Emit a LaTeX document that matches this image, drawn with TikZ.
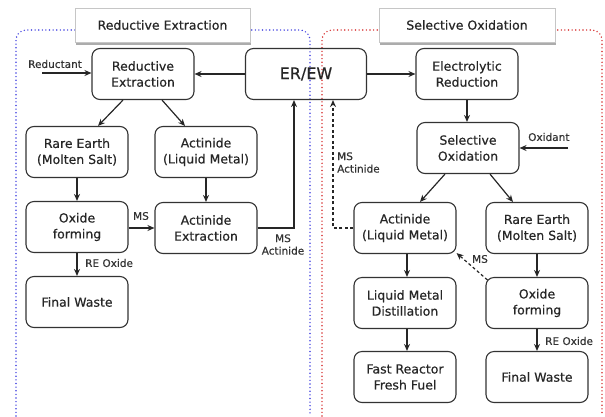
\documentclass[tikz,border=0pt]{standalone}
\usepackage{fontspec}
\setmainfont{DejaVu Sans}
\newfontfamily\medfont[FakeBold=0.5]{DejaVu Sans}
\usetikzlibrary{arrows.meta,calc}
\newcommand\myNodeFont{\medfont\fontsize{12.5}{16}\selectfont}
\newcommand\myBigFont{\medfont\fontsize{16}{18}\selectfont}
\newcommand\myLabFont{\medfont\fontsize{10.5}{12.5}\selectfont}
\newcommand\myTitleFont{\medfont\fontsize{12.5}{15}\selectfont}
\definecolor{dotblue}{RGB}{70,70,225}
\definecolor{dotred}{RGB}{215,50,50}
\begin{document}
\begin{tikzpicture}[x=1pt,y=-1pt,
  box/.style={draw=black!80,line width=1.1pt,rounded corners=8pt,minimum width=102pt,minimum height=51pt,align=center,font=\myNodeFont,text=black!85,inner sep=2pt},
  arr/.style={-{Stealth[length=7pt,width=6pt]},line width=1.2pt,draw=black!85},
  darr/.style={arr,dash pattern=on 3pt off 2.5pt},
  lab/.style={font=\myLabFont,text=black!80,inner sep=0pt},
  titlebox/.style={fill=white,draw=gray!45,line width=0.6pt},
  shadowbox/.style={fill=gray!65,draw=none},
  bluedots/.style={draw=dotblue,line width=1.6pt,dash pattern=on 0.01pt off 3.6pt,line cap=round,rounded corners=10pt},
  reddots/.style={draw=dotred,line width=1.6pt,dash pattern=on 0.01pt off 3.6pt,line cap=round,rounded corners=10pt}]
\useasboundingbox (0,0) rectangle (605,416);
% section frames
\draw[bluedots] (16,416) -- (16,30) -- (310,30) -- (310,416);
\draw[reddots] (322,416) -- (322,30) -- (602,30) -- (602,416);
% title boxes
\fill[shadowbox] (76,11) rectangle (251,45);
\draw[titlebox] (75,8) rectangle (250,42);
\node[font=\myTitleFont,text=black!85] (t1) at (162.5,25) {Reductive Extraction};
\fill[shadowbox] (380,11) rectangle (556,45);
\draw[titlebox] (379,8) rectangle (555,42);
\node[font=\myTitleFont,text=black!85] (t2) at (467,25) {Selective Oxidation};
% nodes
\node[box] (re) at (143,74) {Reductive\\Extraction};
\node[box,minimum width=121pt,font=\myBigFont] (erew) at (306,74) {ER/EW};
\node[box] (elr) at (467,74) {Electrolytic\\Reduction};
\node[box] (so) at (468,148) {Selective\\Oxidation};
\node[box] (rel) at (77,152) {Rare Earth\\(Molten Salt)};
\node[box] (acl) at (206,152) {Actinide\\(Liquid Metal)};
\node[box] (oxl) at (77,227) {Oxide\\forming};
\node[box] (ae) at (206,228) {Actinide\\Extraction};
\node[box] (fwl) at (77,302) {Final Waste};
\node[box] (acr) at (405,228) {Actinide\\(Liquid Metal)};
\node[box] (rer) at (537,228) {Rare Earth\\(Molten Salt)};
\node[box] (lmd) at (405,303) {Liquid Metal\\Distillation};
\node[box] (oxr) at (537,303) {Oxide\\forming};
\node[box] (frf) at (405,377) {Fast Reactor\\Fresh Fuel};
\node[box] (fwr) at (537,377) {Final Waste};
% free ends
\coordinate (redin) at (42,73);
\coordinate (oxin) at (568,148);
% labels
\node[lab,anchor=west] (lred) at (28,64) {Reductant};
\node[lab,anchor=west] (lox) at (528,137) {Oxidant};
\node[lab] (lms1) at (141,216) {MS};
\node[lab,anchor=west] (lreo1) at (85,263) {RE Oxide};
\node[lab,align=center] (lmsa1) at (283,244.5) {MS\\Actinide};
\node[lab,align=left,anchor=west] (lmsa2) at (337,162.5) {MS\\Actinide};
\node[lab] (lms2) at (480,259) {MS};
\node[lab,anchor=west] (lreo2) at (545,341) {RE Oxide};
% connectors
\draw[arr] (redin) -- (redin -| re.west);
\draw[arr] (erew.west) -- (re.east);
\draw[arr] (erew.east) -- (elr.west);
\draw[arr] ([xshift=-20pt]re.south) -- ([xshift=21pt]rel.north);
\draw[arr] ([xshift=19pt]re.south) -- ([xshift=-21pt]acl.north);
\draw[arr] (rel.south) -- (oxl.north);
\draw[arr] (acl.south) -- (ae.north);
\draw[arr] (oxl.east |- ae.west) -- (ae.west);
\draw[arr] (oxl.south) -- (fwl.north);
\draw[arr] (ae.east) -| ([xshift=-12pt]erew.south);
\draw[arr] (elr.south) -- (elr.south |- so.north);
\draw[arr] (oxin) -- (so.east);
\draw[arr] ([xshift=-23pt]so.south) -- ([xshift=15pt]acr.north);
\draw[arr] ([xshift=22pt]so.south) -- ([xshift=-24pt]rer.north);
\draw[arr] ([xshift=2pt]acr.south) -- ([xshift=2pt]lmd.north);
\draw[arr] (rer.south) -- (oxr.north);
\draw[arr] (oxr.south) -- (fwr.north);
\draw[arr] ([xshift=2pt]lmd.south) -- ([xshift=2pt]frf.north);
\draw[darr] ([shift={(2,3)}]oxr.north west) -- ([shift={(0,-1)}]acr.south east);
\draw[darr] (acr.west) -| ([xshift=27pt]erew.south);
\end{tikzpicture}
\end{document}
